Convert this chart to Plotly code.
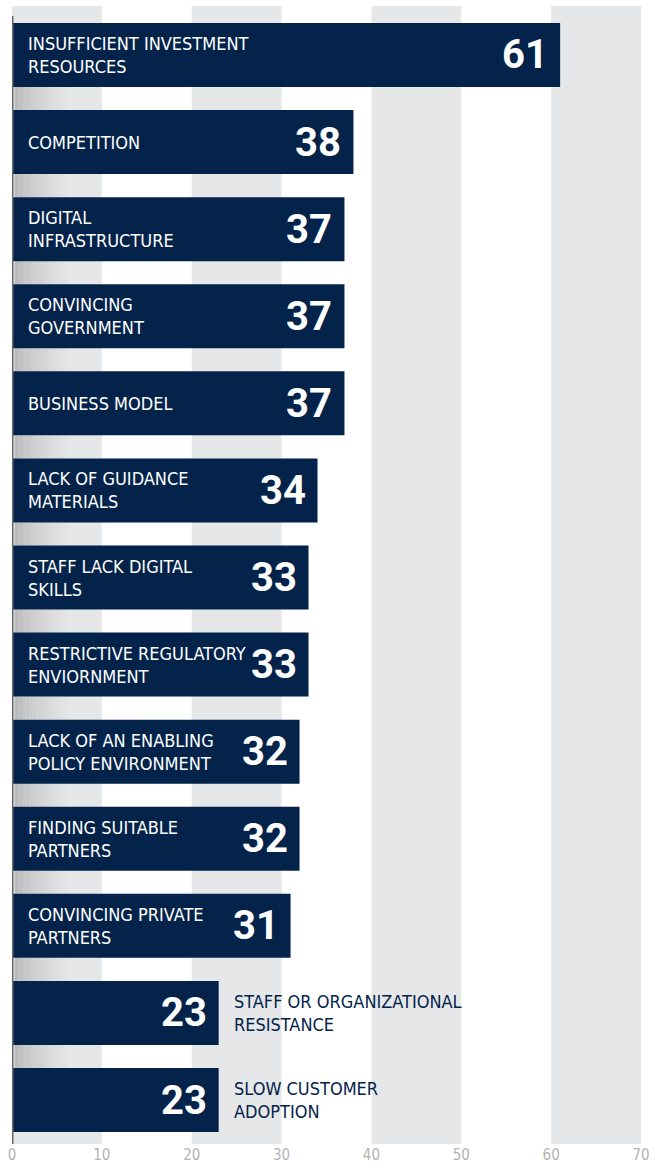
import plotly.graph_objects as go

categories = [
    "INSUFFICIENT INVESTMENT<br>RESOURCES",
    "COMPETITION",
    "DIGITAL<br>INFRASTRUCTURE",
    "CONVINCING<br>GOVERNMENT",
    "BUSINESS MODEL",
    "LACK OF GUIDANCE<br>MATERIALS",
    "STAFF LACK DIGITAL<br>SKILLS",
    "RESTRICTIVE REGULATORY<br>ENVIORNMENT",
    "LACK OF AN ENABLING<br>POLICY ENVIRONMENT",
    "FINDING SUITABLE<br>PARTNERS",
    "CONVINCING PRIVATE<br>PARTNERS",
    "STAFF OR ORGANIZATIONAL<br>RESISTANCE",
    "SLOW CUSTOMER<br>ADOPTION",
]
values = [61, 38, 37, 37, 37, 34, 33, 33, 32, 32, 31, 23, 23]
tick_vals = [0, 10, 20, 30, 40, 50, 60, 70]

NAVY = "#03234a"
STRIPE = "#e6e7e9"
LABEL_FONT = "'Liberation Sans Narrow', 'DejaVu Sans Condensed', sans-serif"
NUM_FONT = "Roboto, 'DejaVu Sans Condensed', sans-serif"

n = len(categories)
ids = list(range(n))

fig = go.Figure()
fig.add_trace(go.Bar(
    x=values, y=ids, orientation="h", width=0.735,
    marker=dict(color=NAVY, line=dict(width=0)),
    hoverinfo="skip", showlegend=False,
))

shapes = []
for i, t in enumerate(tick_vals[:-1]):
    if i % 2 == 0:
        shapes.append(dict(type="rect", xref="x", yref="paper", x0=t, x1=t + 10,
                           y0=0, y1=1, fillcolor=STRIPE, line=dict(width=0), layer="below"))

steps = 16
c0 = (185, 185, 187)
c1 = (230, 231, 233)
for k in range(n - 1):
    ya = k + 0.3675
    yb = k + 1 - 0.3675
    for s in range(steps):
        f = (s / (steps - 1)) ** 0.7
        col = tuple(int(c0[j] + (c1[j] - c0[j]) * f) for j in range(3))
        shapes.append(dict(type="rect", xref="x", yref="y", x0=0.3 + s * 0.4, x1=0.3 + (s + 1) * 0.4,
                           y0=ya, y1=yb, fillcolor="rgb(%d,%d,%d)" % col,
                           line=dict(width=0), layer="below"))

shapes.append(dict(type="line", xref="x", yref="y", x0=0, x1=0, y0=-0.448, y1=n - 0.47,
                   line=dict(color="#666666", width=3)))

annotations = []
for i, (c, v) in enumerate(zip(categories, values)):
    inside = v > 30
    annotations.append(dict(
        x=v, y=i, xref="x", yref="y", text="<b>%d</b>" % v, showarrow=False,
        xanchor="right", yanchor="middle", xshift=-10, yshift=0,
        font=dict(family=NUM_FONT, size=40, color="white"),
    ))
    annotations.append(dict(
        x=0 if inside else v, y=i, xref="x", yref="y", text=c, showarrow=False,
        xanchor="left", yanchor="middle", xshift=14 if inside else 13, align="left",
        font=dict(family=LABEL_FONT, size=18, color="white" if inside else NAVY),
    ))

fig.update_layout(
    width=651, height=1165,
    margin=dict(l=12, r=10, t=6, b=21, autoexpand=False),
    plot_bgcolor="white", paper_bgcolor="white",
    shapes=shapes, annotations=annotations,
    xaxis=dict(range=[0, 70], tickvals=tick_vals, showgrid=False, zeroline=False,
               showline=False, ticks="", automargin=False,
               tickfont=dict(family=LABEL_FONT, size=15, color="#b3b3b3"),
               fixedrange=True),
    yaxis=dict(range=[n - 0.495, -0.5626], showticklabels=False, showgrid=False,
               zeroline=False, showline=False, fixedrange=True, automargin=False),
)

fig.write_html(
    "out.html",
    config={"displayModeBar": False},
    post_script="document.body.style.margin='0';document.body.style.overflow='hidden';",
)
